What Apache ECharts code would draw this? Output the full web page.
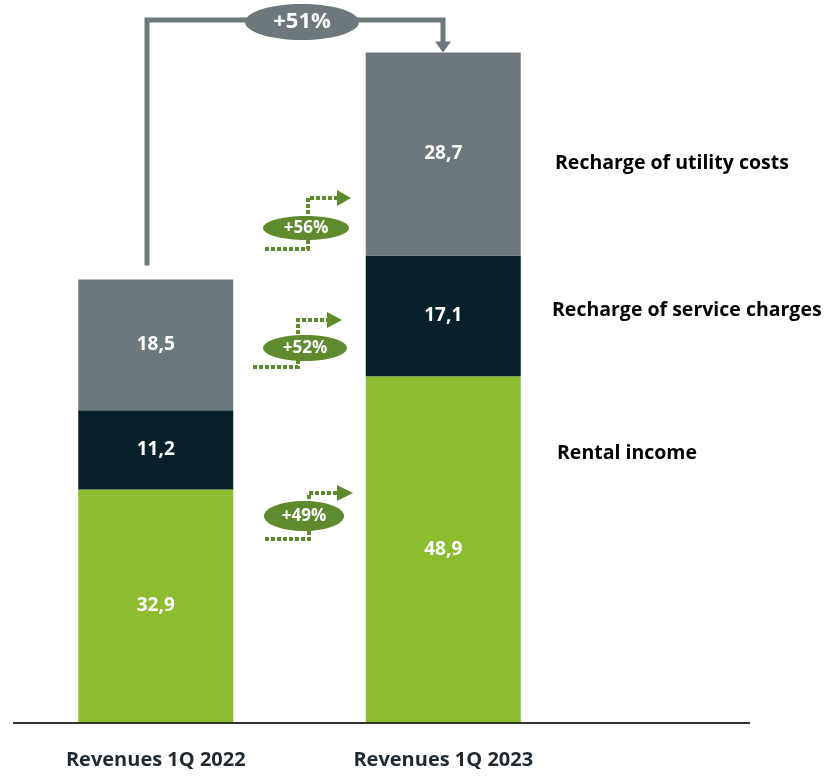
<!DOCTYPE html>
<html>
<head>
<meta charset="utf-8">
<script src="https://cdn.jsdelivr.net/npm/echarts@6/dist/echarts.min.js"></script>
<style>
  html, body { margin: 0; padding: 0; background: #fff; }
  #chart { width: 827px; height: 778px; }
</style>
</head>
<body>
<div id="chart"></div>
<script>
var categories = ["Revenues 1Q 2022", "Revenues 1Q 2023"];
var rentalIncome = [32.9, 48.9];
var serviceCharges = [11.2, 17.1];
var utilityCosts = [18.5, 28.7];
var seriesNames = ["Rental income", "Recharge of service charges", "Recharge of utility costs"];
var growthLabels = ["+49%", "+52%", "+56%"];
var totalGrowth = "+51%";

var font = "'Open Sans'";
var green = "#8bbd2f";
var dark = "#06212a";
var gray = "#6c787c";
var arrowGreen = "#5f8b2f";

function fmt(p) {
  return p.value.toFixed(1).replace(".", ",");
}

function barSeries(name, data, color) {
  return {
    name: name,
    type: "bar",
    stack: "total",
    barWidth: 155,
    data: data,
    itemStyle: { color: color },
    label: {
      show: true,
      position: "inside",
      formatter: fmt,
      color: "#fff",
      fontFamily: "Open Sans",
      fontWeight: "bold",
      fontSize: 19
    }
  };
}

var chart = echarts.init(document.getElementById("chart"));
var option = {
  animation: false,
  backgroundColor: "#fff",
  grid: { left: 12, right: 240, top: 15, bottom: 56 },
  xAxis: {
    type: "category",
    data: categories,
    axisLine: { show: false },
    axisTick: { show: false },
    axisLabel: {
      margin: 28,
      color: "#1f2a30",
      fontFamily: "Open Sans",
      fontWeight: "bold",
      fontSize: 20
    }
  },
  yAxis: {
    type: "value",
    min: 0,
    max: 100,
    show: false,
    splitLine: { show: false }
  },
  series: [
    barSeries(seriesNames[0], rentalIncome, green),
    barSeries(seriesNames[1], serviceCharges, dark),
    barSeries(seriesNames[2], utilityCosts, gray)
  ]
};
chart.setOption(option);

// annotations built around the bars
var total1 = rentalIncome[0] + serviceCharges[0] + utilityCosts[0];
var total2 = rentalIncome[1] + serviceCharges[1] + utilityCosts[1];
var top1 = chart.convertToPixel({ gridIndex: 0 }, [0, total1])[1];
var top2 = chart.convertToPixel({ gridIndex: 0 }, [1, total2])[1];
var base = chart.convertToPixel({ gridIndex: 0 }, [0, 0])[1];

function labelText(x, y, text) {
  return {
    type: "text",
    x: x, y: y,
    style: {
      text: text,
      fill: "#000",
      font: "bold 19.5px " + font,
      verticalAlign: "middle"
    }
  };
}

function growthArrow(cx, cy, rx, ry, pts, head, text) {
  return [
    {
      type: "polyline",
      shape: { points: pts },
      style: { stroke: arrowGreen, lineWidth: 4, lineDash: [4, 2], fill: null }
    },
    {
      type: "polygon",
      shape: { points: head },
      style: { fill: arrowGreen }
    },
    {
      type: "ellipse",
      shape: { cx: cx, cy: cy, rx: rx, ry: ry },
      style: { fill: arrowGreen }
    },
    {
      type: "text",
      x: cx, y: cy,
      style: {
        text: text,
        fill: "#fff",
        font: "bold 17px " + font,
        align: "center",
        verticalAlign: "middle"
      }
    }
  ];
}

var elements = [
  { type: "line", shape: { x1: 13, y1: base + 1, x2: 750, y2: base + 1 }, style: { stroke: "#333", lineWidth: 2 } },
  labelText(555, 163, seriesNames[2]),
  labelText(552, 310, seriesNames[1]),
  labelText(557, 453, seriesNames[0]),
  {
    type: "polyline",
    shape: { points: [[147, top1 - 14], [147, 20], [443, 20], [443, top2 - 10]] },
    style: { stroke: gray, lineWidth: 5, fill: null }
  },
  {
    type: "polygon",
    shape: { points: [[435, top2 - 11], [451, top2 - 11], [443, top2]] },
    style: { fill: gray }
  },
  { type: "ellipse", shape: { cx: 302, cy: 22, rx: 57, ry: 18 }, style: { fill: gray } },
  {
    type: "text", x: 302, y: 22,
    style: { text: totalGrowth, fill: "#fff", font: "bold 22px " + font, align: "center", verticalAlign: "middle" }
  }
];

elements = elements.concat(
  growthArrow(306, 228, 43, 12, [[265, 249], [308, 249], [308, 198], [338, 198]], [[337, 190], [351, 198], [337, 206]], growthLabels[2]),
  growthArrow(305, 348, 42, 13, [[253, 367], [298, 367], [298, 320], [328, 320]], [[327, 312], [342, 320], [327, 328]], growthLabels[1]),
  growthArrow(304, 516, 40, 15, [[265, 539], [309, 539], [309, 493], [338, 493]], [[337, 485], [353, 493], [337, 501]], growthLabels[0])
);

chart.setOption({ graphic: { elements: elements } });
</script>
</body>
</html>
